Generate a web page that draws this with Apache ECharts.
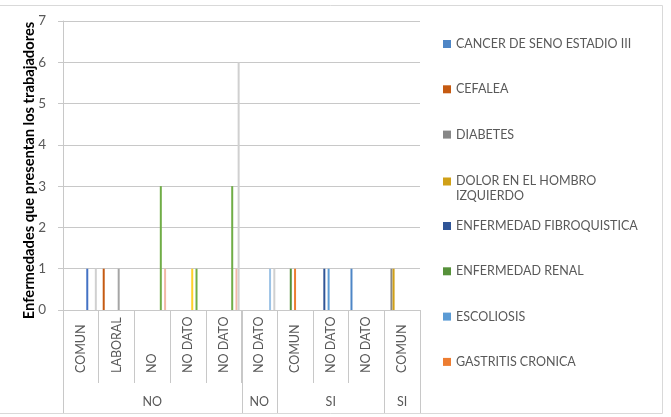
<!DOCTYPE html>
<html><head><meta charset="utf-8">
<script src="https://cdn.jsdelivr.net/npm/echarts@6/dist/echarts.min.js"></script>
<style>html,body{margin:0;padding:0;background:#fff}#c{width:671px;height:417px}</style>
</head><body><div id="c"></div>
<script>
// ---- data ----
const categories = ['COMUN','LABORAL','NO','NO DATO','NO DATO','NO DATO','COMUN','NO DATO','NO DATO','COMUN'];
const groupLabels = ['NO','NO','SI','SI'];
const groupSpans = [5,1,3,1];
const yTicks = [0,1,2,3,4,5,6,7];
const seriesNames = ['CANCER DE SENO ESTADIO III','CEFALEA','DIABETES','DOLOR EN EL HOMBRO IZQUIERDO',
  'ENFERMEDAD FIBROQUISTICA','ENFERMEDAD RENAL','ESCOLIOSIS','GASTRITIS CRONICA',
  'SERIE 9','SERIE 10','SERIE 11','SERIE 12','SERIE 13','SERIE 14','SERIE 15'];
const s1  = [null,null,null,null,null,null,null,null,1,null];
const s2  = [null,1,null,null,null,null,null,null,null,null];
const s3  = [null,null,null,null,null,null,null,null,null,1];
const s4  = [null,null,null,null,null,null,null,null,null,1];
const s5  = [null,null,null,null,null,null,null,1,null,null];
const s6  = [null,null,null,null,null,null,1,null,null,null];
const s7  = [null,null,null,null,null,null,null,1,null,null];
const s8  = [null,null,null,null,null,null,1,null,null,null];
const s9  = [null,1,null,null,null,null,null,null,null,null];
const s10 = [null,null,null,1,null,null,null,null,null,null];
const s11 = [1,null,null,null,null,null,null,null,null,null];
const s12 = [null,null,3,1,3,null,null,null,null,null];
const s13 = [null,null,null,null,null,1,null,null,null,null];
const s14 = [null,null,1,null,1,null,null,null,null,null];
const s15 = [1,null,null,null,6,1,null,null,null,null];
const seriesValues = [s1,s2,s3,s4,s5,s6,s7,s8,s9,s10,s11,s12,s13,s14,s15];
const colors = ['#4E86C6','#C55A11','#878787','#D0A017','#2F5597','#56913A','#5B9BD5','#ED7D31',
  '#A5A5A5','#FFD12A','#4472C4','#70AD47','#9DC3E6','#F2B8A6','#D0D0D0'];

const FONT = 'Lato';
const TXT = '#595959';
const LINE = '#C8C8C8';

const series = seriesNames.map((n,i)=>({
  name:n, type:'bar', data:seriesValues[i], barWidth:2, barGap:'7%',
  itemStyle:{color:colors[i]}, emphasis:{disabled:true}, animation:false
}));

const legendText = {color:TXT, fontFamily:FONT, fontSize:12.5, lineHeight:15};
const option = {
  animation:false,
  grid:{left:63, right:251, top:21, bottom:107, containLabel:false},
  xAxis:{type:'category', data:categories,
    axisLine:{lineStyle:{color:LINE}},
    axisTick:{show:true, length:73, lineStyle:{color:LINE}},
    axisLabel:{interval:0, rotate:90, align:'left', verticalAlign:'middle', margin:63,
      color:TXT, fontFamily:FONT, fontSize:12.5}
  },
  yAxis:{type:'value', min:yTicks[0], max:yTicks[yTicks.length-1], interval:1,
    name:'Enfermedades que presentan los trabajadores', nameLocation:'middle', nameGap:26,
    nameMoveOverlap:false,
    nameTextStyle:{color:'#000', fontFamily:FONT, fontWeight:'bold', fontSize:14.7, padding:[0,10,0,0]},
    axisLine:{show:true, lineStyle:{color:LINE}},
    axisTick:{show:true, length:5, lineStyle:{color:LINE}},
    axisLabel:{margin:17, color:TXT, fontFamily:FONT, fontSize:13.5},
    splitLine:{lineStyle:{color:LINE}}
  },
  legend:[
    {data:seriesNames.slice(0,3), orient:'vertical', left:443, top:36.5, padding:0, itemGap:30.3,
     itemWidth:8, itemHeight:8, icon:'rect', textStyle:legendText, selectedMode:false},
    {data:[{name:seriesNames[3], icon:'path://M0,0H8V8H0Z M7.9,21.9L8,22L7.9,22Z'}], orient:'vertical', left:443, top:173.5, padding:0,
     itemWidth:8, itemHeight:22, textStyle:legendText, selectedMode:false,
     formatter:()=> 'DOLOR EN EL HOMBRO\nIZQUIERDO'},
    {data:seriesNames.slice(4,8), orient:'vertical', left:443, top:218.5, padding:0, itemGap:30.3,
     itemWidth:8, itemHeight:8, icon:'rect', textStyle:legendText, selectedMode:false}
  ],
  series:series
};

const chart = echarts.init(document.getElementById('c'), null, {renderer:'canvas'});
chart.setOption(option);

const cx = i => chart.convertToPixel({xAxisIndex:0}, i);
const half = (cx(1)-cx(0))/2;
const yBase = chart.convertToPixel({yAxisIndex:0}, 0);
const bottomY = 413;
const graphics = [];
graphics.push({type:'rect', shape:{x:-1, y:5.5, width:663.5, height:408}, style:{fill:null, stroke:'#D9D9D9', lineWidth:1}, silent:true});
let idx = 0;
const bounds = [0];
groupSpans.forEach(s=>{ idx += s; bounds.push(idx); });
bounds.forEach(b=>{
  const x = Math.round(cx(0) - half + b*2*half) + 0.5;
  graphics.push({type:'line', shape:{x1:x, y1:yBase, x2:x, y2:bottomY}, style:{stroke:LINE, lineWidth:1}, silent:true});
});
let start = 0;
groupLabels.forEach((g,k)=>{
  const end = start + groupSpans[k];
  const mid = (cx(start) + cx(end-1))/2;
  graphics.push({type:'text', x:mid, y:402, style:{text:g, fill:TXT, font:'12.5px '+FONT, align:'center', verticalAlign:'middle'}, silent:true});
  start = end;
});
chart.setOption({graphic:graphics});
</script></body></html>
